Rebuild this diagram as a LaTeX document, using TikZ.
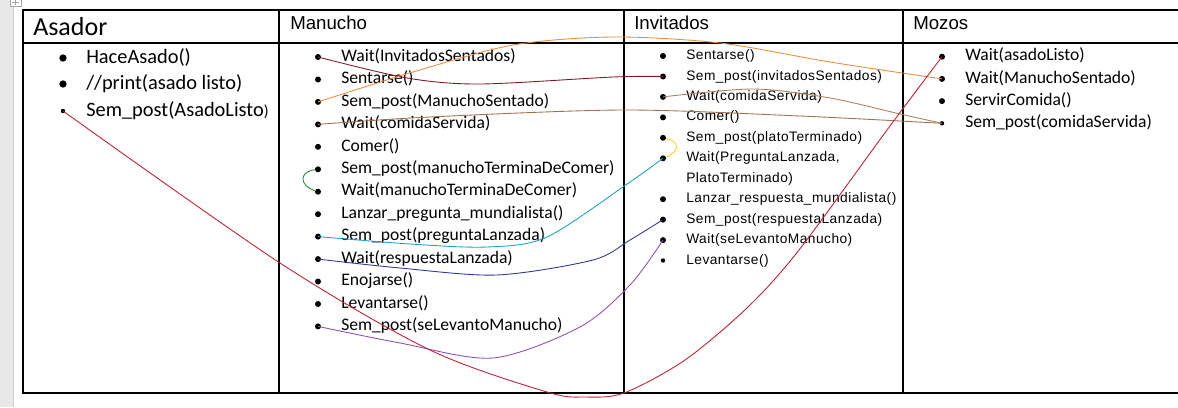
\documentclass[tikz,border=0pt]{standalone}
\usepackage{fontspec}
\setmainfont{Carlito}
\newfontfamily\headfont{Liberation Sans}
\newfontfamily\invfont[LetterSpace=3.5]{Liberation Sans}
\usetikzlibrary{positioning}

\definecolor{lnMaroon}{RGB}{122,24,42}
\definecolor{lnOrange}{RGB}{232,142,62}
\definecolor{lnBrown}{RGB}{160,112,80}
\definecolor{lnTan}{RGB}{176,126,92}
\definecolor{lnGreen}{RGB}{40,140,62}
\definecolor{lnYellow}{RGB}{240,212,30}
\definecolor{lnCyan}{RGB}{30,160,200}
\definecolor{lnNavy}{RGB}{52,52,150}
\definecolor{lnPurple}{RGB}{142,80,170}
\definecolor{lnRed}{RGB}{192,30,50}

\begin{document}
\begin{tikzpicture}[
    x=0.75pt, y=-0.75pt,
    dot/.style={
        circle,
        fill=black,
        inner sep=0pt,
        minimum size=4.5pt
    },
    bigdot/.style={
        dot,
        minimum size=5.5pt
    },
    smalldot/.style={
        dot,
        minimum size=3.3pt
    },
    item/.style={
        inner sep=0pt,
        text height=9pt,
        text depth=2.6pt,
        font=\fontsize{13.2pt}{15pt}\selectfont
    },
    bigitem/.style={
        item,
        text height=10.5pt,
        text depth=3pt,
        font=\fontsize{15.3pt}{17pt}\selectfont
    },
    invitem/.style={
        item,
        text height=7.4pt,
        text depth=2.1pt,
        font=\invfont\fontsize{10.3pt}{12pt}\selectfont
    },
    colhead/.style={
        anchor=base west,
        inner sep=0pt,
        font=\headfont\fontsize{14pt}{16pt}\selectfont
    },
    grid/.style={line width=0.8pt},
    link/.style={line width=0.65pt}
]
\useasboundingbox (0,0) rectangle (1178,407);
\fill[white] (0,0) rectangle (1178,407);

% Page margin and table handle
\fill[gray!18] (0,0) rectangle (13,407);
\draw[gray!40] (13.5,0) -- (13.5,407);
\draw[gray!70, line width=0.4pt, fill=white] (10,-1) rectangle (21,6);
\draw[gray!70, line width=0.4pt] (15.5,0) -- (15.5,5) (12,2.5) -- (19,2.5);

% Table grid
\draw[grid] (1178,10) -- (23,10) -- (23,393) -- (1178,393);
\draw[grid] (23,43) -- (1178,43);
\draw[grid] (279,10) -- (279,393);
\draw[grid] (624,10) -- (624,393);
\draw[grid] (903,10) -- (903,393);

% Column headers
\node[colhead, font=\fontsize{19.5pt}{22pt}\selectfont] (h_asador) at (33,36) {Asador};
\node[colhead] (h_manucho) at (290,29) {Manucho};
\node[colhead] (h_invitados) at (634,29.5) {Invitados};
\node[colhead] (h_mozos) at (913,29.5) {Mozos};

% Asador
\node[bigdot] (a1) at (63,58) {};
\node[bigitem, right=17.25pt of a1.center] (a1t) {HaceAsado()};
\node[bigdot] (a2) at (63,84) {};
\node[bigitem, right=17.25pt of a2.center] (a2t) {//print(asado listo)};
\node[smalldot] (a3) at (63,111) {};
\node[bigitem, right=17.25pt of a3.center] (a3t) {Sem\_post(AsadoListo{\fontsize{12pt}{14pt}\selectfont)}};

% Manucho
\node[dot] (m1) at (318,57) {};
\node[item, right=17.25pt of m1.center] (m1t) {Wait(InvitadosSentados)};
\node[dot] (m2) at (318,79.5) {};
\node[item, right=17.25pt of m2.center] (m2t) {Sentarse()};
\node[dot] (m3) at (318,101.9) {};
\node[item, right=17.25pt of m3.center] (m3t) {Sem\_post(ManuchoSentado)};
\node[dot] (m4) at (318,124.4) {};
\node[item, right=17.25pt of m4.center] (m4t) {Wait(comidaServida)};
\node[dot] (m5) at (318,146.8) {};
\node[item, right=17.25pt of m5.center] (m5t) {Comer()};
\node[dot] (m6) at (318,169.3) {};
\node[item, right=17.25pt of m6.center] (m6t) {Sem\_post(manuchoTerminaDeComer)};
\node[dot] (m7) at (318,191.7) {};
\node[item, right=17.25pt of m7.center] (m7t) {Wait(manuchoTerminaDeComer)};
\node[dot] (m8) at (318,214.2) {};
\node[item, right=17.25pt of m8.center] (m8t) {Lanzar\_pregunta\_mundialista()};
\node[dot] (m9) at (318,236.6) {};
\node[item, right=17.25pt of m9.center] (m9t) {Sem\_post(preguntaLanzada)};
\node[dot] (m10) at (318,259.1) {};
\node[item, right=17.25pt of m10.center] (m10t) {Wait(respuestaLanzada)};
\node[dot] (m11) at (318,281.5) {};
\node[item, right=17.25pt of m11.center] (m11t) {Enojarse()};
\node[dot] (m12) at (318,304) {};
\node[item, right=17.25pt of m12.center] (m12t) {Levantarse()};
\node[dot] (m13) at (318,326.4) {};
\node[item, right=17.25pt of m13.center] (m13t) {Sem\_post(seLevantoManucho)};

% Invitados
\node[dot] (i1) at (663,56) {};
\node[invitem, right=17.25pt of i1.center] (i1t) {Sentarse()};
\node[dot] (i2) at (663,76.5) {};
\node[invitem, right=17.25pt of i2.center] (i2t) {Sem\_post(invitadosSentados)};
\node[dot] (i3) at (663,96.9) {};
\node[invitem, right=17.25pt of i3.center] (i3t) {Wait(comidaServida)};
\node[dot] (i4) at (663,117.4) {};
\node[invitem, right=17.25pt of i4.center] (i4t) {Comer()};
\node[dot] (i5) at (663,137.8) {};
\node[invitem, right=17.25pt of i5.center] (i5t) {Sem\_post(platoTerminado)};
\node[dot] (i6) at (663,158.3) {};
\node[invitem, right=17.25pt of i6.center] (i6t) {Wait(PreguntaLanzada,};
\node[invitem, below=5.85pt of i6t.south west, anchor=north west] (i6c) {PlatoTerminado)};
\node[dot] (i7) at (663,199.2) {};
\node[invitem, right=17.25pt of i7.center] (i7t) {Lanzar\_respuesta\_mundialista()};
\node[dot] (i8) at (663,219.6) {};
\node[invitem, right=17.25pt of i8.center] (i8t) {Sem\_post(respuestaLanzada)};
\node[dot] (i9) at (663,240.1) {};
\node[invitem, right=17.25pt of i9.center] (i9t) {Wait(seLevantoManucho)};
\node[smalldot] (i10) at (663,260.5) {};
\node[invitem, right=17.25pt of i10.center] (i10t) {Levantarse()};

% Mozos
\node[dot] (z1) at (942,56.7) {};
\node[item, right=17.25pt of z1.center] (z1t) {Wait(asadoListo)};
\node[dot] (z2) at (942,78.9) {};
\node[item, right=17.25pt of z2.center] (z2t) {Wait(ManuchoSentado)};
\node[dot] (z3) at (942,101.1) {};
\node[item, right=17.25pt of z3.center] (z3t) {ServirComida()};
\node[smalldot] (z4) at (942,123.3) {};
\node[item, right=17.25pt of z4.center] (z4t) {Sem\_post(comidaServida)};

% Connections
\draw[link, lnMaroon] plot[smooth] coordinates {(m1) (407,78) (480,84) (613,77) (i2)};
\draw[link, lnOrange] plot[smooth] coordinates {(m3) (413,72) (513,45) (613,37) (720,43) (830,62) (z2)};
\draw[link, lnBrown] plot[smooth] coordinates {(m4) (430,117) (624,110) (800,116) (z4)};
\draw[link, lnTan] plot[smooth] coordinates {(i3) (753,89) (830,98) (900,114) (z4)};
\draw[link, lnGreen] (m6) .. controls (298,172) and (300,186) .. (m7);
\draw[link, lnYellow] (i5) .. controls (680,141) and (680,152) .. (i6);
\draw[link, lnCyan] plot[smooth] coordinates {(m9) (410,244) (487,247) (547,237) (630,182) (i6)};
\draw[link, lnNavy] plot[smooth] coordinates {(m10) (400,268) (497,275) (593,260) (630,240) (i8)};
\draw[link, lnPurple] plot[smooth] coordinates {(m13) (400,343) (493,358) (580,327) (630,285) (i9)};
\draw[link, lnRed] plot[smooth] coordinates {(a3) (280,263) (430,350) (547,392) (585,397) (624,393) (685,360) (748,307) (799,250) (887,130) (z1)};

\end{tikzpicture}
\end{document}
